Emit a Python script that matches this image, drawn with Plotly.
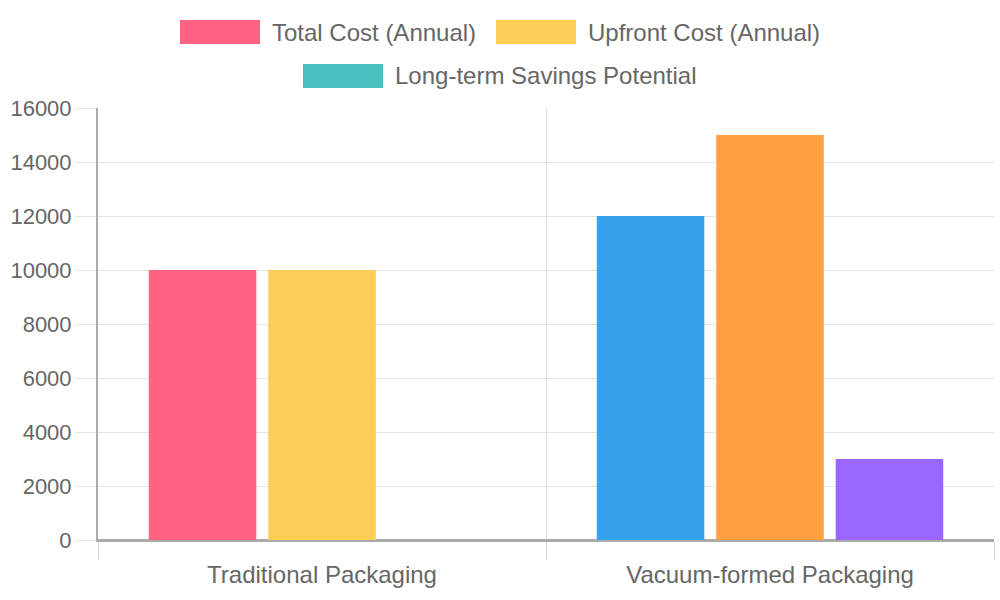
import plotly.graph_objects as go

categories = ["Traditional Packaging", "Vacuum-formed Packaging"]
series_names = ["Total Cost (Annual)", "Upfront Cost (Annual)", "Long-term Savings Potential"]
total_cost = [10000, 12000]
upfront_cost = [10000, 15000]
savings_potential = [0, 3000]
colors_total = ["#FF6384", "#36A2EB"]
colors_upfront = ["#FFCD56", "#FF9F40"]
colors_savings = ["#4BC0C0", "#9966FF"]
y_ticks = [0, 2000, 4000, 6000, 8000, 10000, 12000, 14000, 16000]

FONT = "Liberation Sans, Arial, Helvetica, sans-serif"
TXT = "#666666"

fig = go.Figure()
for name, vals, cols in [
    (series_names[0], total_cost, colors_total),
    (series_names[1], upfront_cost, colors_upfront),
    (series_names[2], savings_potential, colors_savings),
]:
    fig.add_trace(go.Bar(
        x=categories, y=vals, name=name,
        marker=dict(color=cols, line=dict(width=0)),
        showlegend=False,
    ))

W, H = 1000, 600
ml, mr, mt, mb = 98, 6, 108, 60
pw, ph = W - ml - mr, H - mt - mb

def px_x(px):
    return (px - ml) / pw

def px_y(py):
    return (H - mb - py) / ph

# manual legend (Chart.js style wide boxes)
legend_items = [
    (series_names[0], colors_total[0], 180, 32),
    (series_names[1], colors_upfront[0], 496, 32),
    (series_names[2], colors_savings[0], 303, 76),
]
shapes = []
annotations = []
for name, col, x0, yc in legend_items:
    shapes.append(dict(type="rect", xref="paper", yref="paper",
                       x0=px_x(x0), x1=px_x(x0 + 80), y0=px_y(yc + 12), y1=px_y(yc - 12),
                       fillcolor=col, line=dict(width=0), layer="above"))
    annotations.append(dict(xref="paper", yref="paper", x=px_x(x0 + 90), y=px_y(yc),
                            text=name, showarrow=False, xanchor="left", yanchor="middle",
                            font=dict(family=FONT, size=24, color=TXT)))

fig.update_layout(
    width=W, height=H,
    margin=dict(l=ml, r=mr, t=mt, b=mb),
    paper_bgcolor="white", plot_bgcolor="white",
    barmode="group", bargap=0.2, bargroupgap=0.1,
    font=dict(family=FONT, color=TXT),
    shapes=shapes, annotations=annotations,
    showlegend=False,
    xaxis=dict(
        type="category", range=[-0.5, 1.5],
        tickson="boundaries", ticks="outside", ticklen=18, tickcolor="#d8d8d8", tickwidth=1,
        showgrid=True, gridcolor="#e2e2e2", gridwidth=1,
        showline=True, linecolor="#aaaaaa", linewidth=2,
        tickfont=dict(family=FONT, size=24, color=TXT),
        ticklabelstandoff=12,
        zeroline=False,
    ),
    yaxis=dict(
        range=[0, 16000], tickvals=y_ticks, ticktext=[str(v) for v in y_ticks],
        ticks="outside", ticklen=20, tickcolor="#e2e2e2", tickwidth=1,
        showgrid=True, gridcolor="#e2e2e2", gridwidth=1,
        showline=True, linecolor="#aaaaaa", linewidth=2,
        zeroline=True, zerolinecolor="#aaaaaa", zerolinewidth=2,
        tickfont=dict(family=FONT, size=22, color=TXT),
    ),
)

fig.write_html("out.html")
